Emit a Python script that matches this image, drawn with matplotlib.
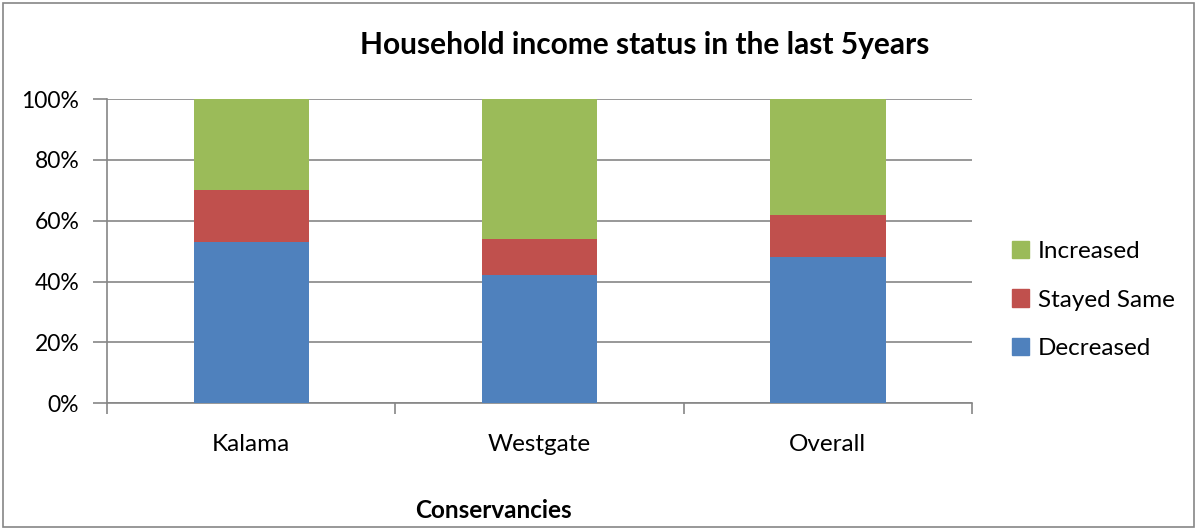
import matplotlib
matplotlib.use("Agg")
import matplotlib.pyplot as plt
from matplotlib.patches import Rectangle, Patch
import numpy as np

categories = ["Kalama", "Westgate", "Overall"]
decreased = [53, 42, 48]
stayed_same = [17, 12, 14]
increased = [30, 46, 38]
yticks = [0, 20, 40, 60, 80, 100]
ytick_labels = ["0%", "20%", "40%", "60%", "80%", "100%"]

plt.rcParams['font.family'] = ['Lato', 'DejaVu Sans']

fig = plt.figure(figsize=(11.97, 5.29), dpi=100)
ax = fig.add_axes([107/1197, 1-403.3/529, (972-107)/1197, (403.3-99)/529])

x = np.arange(len(categories))
w = 0.4
c_dec, c_same, c_inc = "#4F81BD", "#C0504D", "#9BBB59"
ax.bar(x, decreased, w, color=c_dec, zorder=3)
ax.bar(x, stayed_same, w, bottom=decreased, color=c_same, zorder=3)
bot2 = [a + b for a, b in zip(decreased, stayed_same)]
ax.bar(x, increased, w, bottom=bot2, color=c_inc, zorder=3)

ax.set_xlim(-0.5, len(categories) - 0.5)
ax.set_ylim(0, 100)
ax.set_yticks(yticks)
ax.set_yticklabels(ytick_labels, fontsize=16.5)
ax.yaxis.grid(True, color="#868686", linewidth=1.2, zorder=0)
ax.set_xticks(x)
ax.set_xticklabels(categories, fontsize=17.5)
ax.tick_params(axis='x', length=0, pad=22)
ax.set_xticks(np.arange(-0.5, len(categories), 1), minor=True)
ax.tick_params(axis='x', which='minor', length=8, color="#868686", width=1.2)
ax.tick_params(axis='y', length=10, color="#868686", width=1.2, pad=10)
for s in ["top", "right"]:
    ax.spines[s].set_visible(False)
for s in ["left", "bottom"]:
    ax.spines[s].set_color("#868686")
    ax.spines[s].set_linewidth(1.2)

fig.text(645/1197, 1-45/529, "Household income status in the last 5years",
         ha="center", va="center", fontsize=21.5, fontweight="bold")
fig.text(493/1197, 1-510/529, "Conservancies", ha="center", va="center",
         fontsize=17.5, fontweight="bold")

handles = [Patch(color=c_inc, label="Increased"),
           Patch(color=c_same, label="Stayed Same"),
           Patch(color=c_dec, label="Decreased")]
fig.legend(handles=handles, loc="center left", bbox_to_anchor=(1012/1197, 1-300/529),
           frameon=False, fontsize=17.5, handlelength=0.7, handleheight=0.7,
           labelspacing=1.15, handletextpad=0.35, borderpad=0, borderaxespad=0)

fig.patches.append(Rectangle((3/1197, 2/529), 1191/1197, 524/529, transform=fig.transFigure,
                             fill=False, edgecolor="#868686", linewidth=1.2))

fig.savefig("out.png", dpi=100)
